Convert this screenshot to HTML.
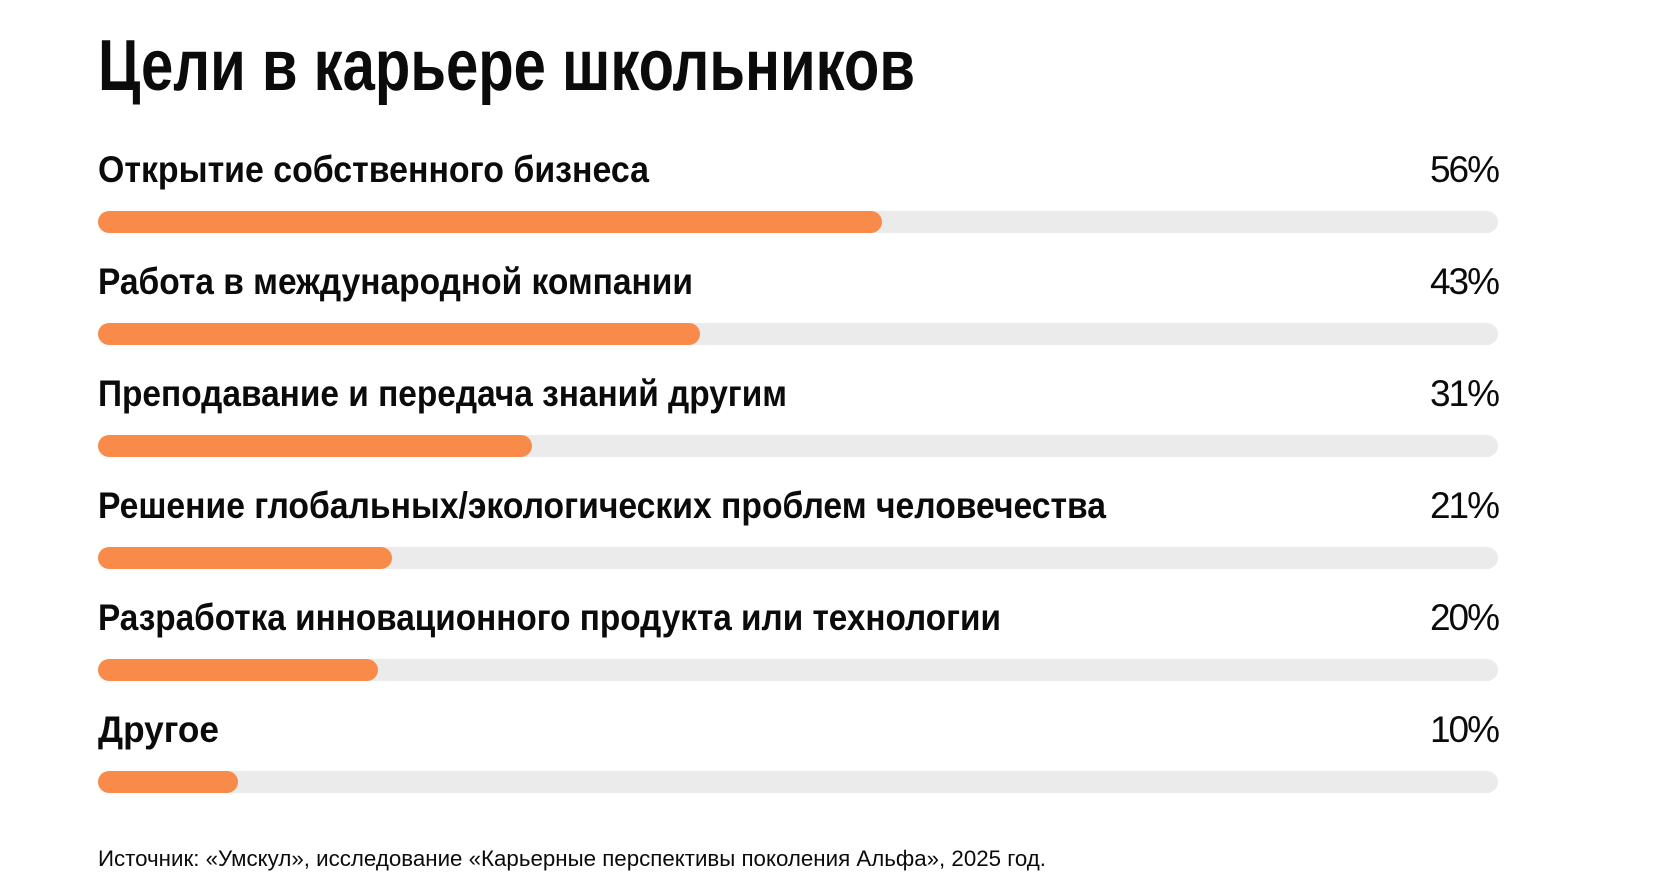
<!DOCTYPE html>
<html><head><meta charset="utf-8"><style>
html,body{margin:0;padding:0;background:#fff;width:1660px;height:882px;overflow:hidden}
svg{display:block}
text{font-family:"Liberation Sans","Noto Sans CJK SC",sans-serif;fill:#0b0b0b}
</style></head><body>
<svg id="chart" width="1660" height="882" viewBox="0 0 1660 882" xmlns="http://www.w3.org/2000/svg">
<text x="98" y="90" font-size="72" font-weight="bold" textLength="817" lengthAdjust="spacingAndGlyphs">Цели в карьере школьников</text>
<g id="rows"></g>
<text x="98" y="866" font-size="22" textLength="948" lengthAdjust="spacingAndGlyphs">Источник: «Умскул», исследование «Карьерные перспективы поколения Альфа», 2025 год.</text>
</svg>
<script>
const categories = ["Открытие собственного бизнеса","Работа в международной компании","Преподавание и передача знаний другим","Решение глобальных/экологических проблем человечества","Разработка инновационного продукта или технологии","Другое"];
const values = [56, 43, 31, 21, 20, 10];
const valueLabels = ["56%","43%","31%","21%","20%","10%"];
const labelWidths = [551, 595, 689, 1008, 903, 121];

const NS = "http://www.w3.org/2000/svg";
const g = document.getElementById("rows");
const x0 = 98, x1 = 1498, maxV = 100;
const xScale = v => x0 + (x1 - x0) * v / maxV;
const rowY = i => 182 + i * 112;
const barH = 22;

categories.forEach((c, i) => {
  const base = rowY(i);
  const lab = document.createElementNS(NS, "text");
  
  
  lab.setAttribute("x", x0); lab.setAttribute("y", base);
  lab.setAttribute("font-size", "37"); lab.setAttribute("font-weight", "bold");
  lab.setAttribute("textLength", labelWidths[i]); lab.setAttribute("lengthAdjust", "spacingAndGlyphs");
  lab.textContent = c; g.appendChild(lab);

  const val = document.createElementNS(NS, "text");
  
  
  val.setAttribute("x", x1); val.setAttribute("y", base);
  val.setAttribute("font-size", "37"); val.setAttribute("text-anchor", "end");
  val.setAttribute("letter-spacing", "-2");
  val.textContent = valueLabels[i]; g.appendChild(val);

  const by = base + 29;
  const track = document.createElementNS(NS, "rect");
  
  
  track.setAttribute("x", x0); track.setAttribute("y", by);
  track.setAttribute("width", x1 - x0); track.setAttribute("height", barH);
  track.setAttribute("rx", barH / 2); track.setAttribute("fill", "#ebebeb");
  g.appendChild(track);

  const bar = document.createElementNS(NS, "rect");
  
  
  bar.setAttribute("x", x0); bar.setAttribute("y", by);
  bar.setAttribute("width", xScale(values[i]) - x0); bar.setAttribute("height", barH);
  bar.setAttribute("rx", barH / 2); bar.setAttribute("fill", "#f98b4a");
  g.appendChild(bar);
});
</script>
</body></html>
